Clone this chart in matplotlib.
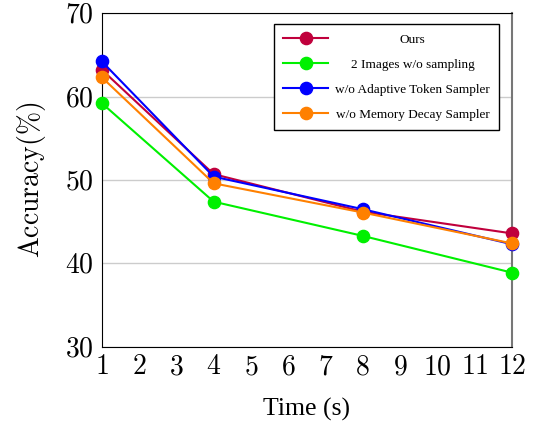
import matplotlib
matplotlib.use("Agg")
from matplotlib import pyplot as plt

plt.rcParams["mathtext.fontset"] = "cm"
plt.rcParams["font.family"] = "serif"
plt.rcParams["font.serif"] = ["Liberation Serif", "DejaVu Serif"]

time_s = [1, 4, 8, 12]
ours = [63.2, 50.7, 46.2, 43.6]
two_images = [59.2, 47.4, 43.3, 38.9]
no_adaptive = [64.2, 50.4, 46.5, 42.3]
no_memory = [62.3, 49.6, 46.1, 42.4]

series = [
    ("Ours", ours, "#c0003c"),
    ("2 Images w/o sampling", two_images, "#00f000"),
    ("w/o Adaptive Token Sampler", no_adaptive, "#0000ff"),
    ("w/o Memory Decay Sampler", no_memory, "#ff8000"),
]

fig = plt.figure(figsize=(5.36, 4.21), dpi=100)
ax = fig.add_axes([0.190, 0.176, 0.765, 0.793])

for name, vals, col in series:
    ax.plot(time_s, vals, "-o", color=col, lw=1.5, ms=8.8, label=name,
            clip_on=False, zorder=3)

ax.set_xlim(1, 12)
ax.set_ylim(30, 70)
ax.set_xticks(range(1, 13))
ax.set_xticklabels([f"${i}$" for i in range(1, 13)], fontsize=20)
ax.set_yticks([30, 40, 50, 60, 70])
ax.set_yticklabels([f"${v}$" for v in [30, 40, 50, 60, 70]], fontsize=20)
ax.tick_params(length=0, pad=6)
ax.yaxis.grid(True, color="#cccccc", lw=1)
ax.set_axisbelow(True)
for s in ["left", "top", "bottom"]:
    ax.spines[s].set_color("black")
ax.spines["right"].set_color("#777777")
ax.spines["right"].set_linewidth(1.5)

ax.set_xlabel("Time (s)", fontsize=18.5, labelpad=13)
ax.set_ylabel(r"$\mathrm{Accuracy}(\%)$", fontsize=20, labelpad=12)

leg = ax.legend(loc="upper right", fontsize=9.5, fancybox=False, framealpha=1,
                edgecolor="black", borderpad=0.7, labelspacing=0.97,
                handlelength=3.4, handletextpad=0.5, borderaxespad=0,
                bbox_to_anchor=(0.968, 0.967))
leg.get_frame().set_linewidth(1)
leg.set_zorder(5)

# centre the legend labels in the space right of the handles
fig.canvas.draw()
frame = leg.get_frame().get_window_extent()
texts = leg.get_texts()
boxes = [t.get_window_extent() for t in texts]
left = min(b.x0 for b in boxes)
right = frame.x1 - 8
cx = (left + right) / 2
inv = fig.transFigure.inverted()
for t, b in zip(texts, boxes):
    x, y = inv.transform((cx, (b.y0 + b.y1) / 2))
    fig.text(x, y, t.get_text(), fontsize=9.5, ha="center", va="center",
             zorder=6)
    t.set_alpha(0)

fig.savefig("out.png", dpi=100)
